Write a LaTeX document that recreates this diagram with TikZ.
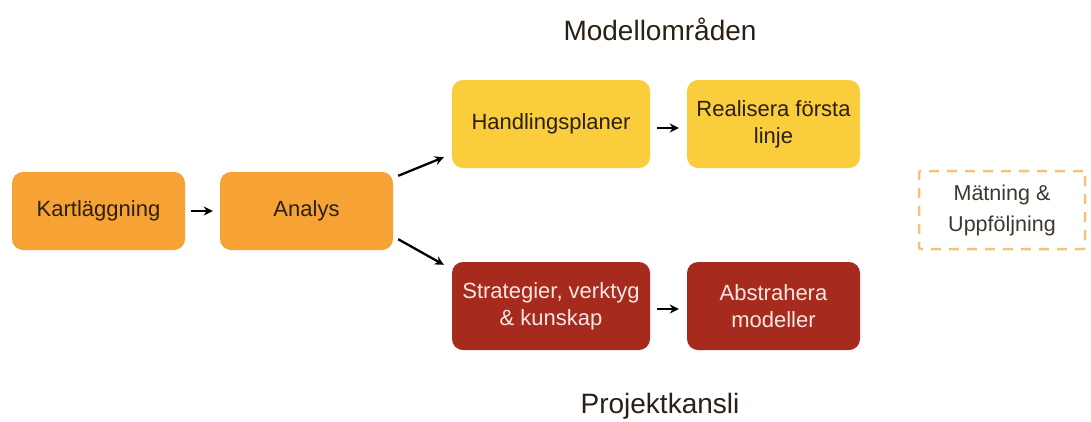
\documentclass[tikz,border=0pt]{standalone}
\usepackage{fontspec}
\setmainfont{Liberation Sans}
\usetikzlibrary{calc,arrows.meta}
\definecolor{boxorange}{HTML}{F7A234}
\definecolor{boxyellow}{HTML}{F9CD3C}
\definecolor{boxred}{HTML}{A62A1E}
\definecolor{darktext}{HTML}{2A2015}
\definecolor{lighttext}{HTML}{F7E8E2}
\definecolor{dashorange}{HTML}{F3C27C}
\tikzset{
  x=1pt, y=-1pt,
  stepbox/.style={rounded corners=11pt, align=center, inner sep=2pt,
    font=\fontsize{22}{27}\selectfont, text=darktext},
  orangebox/.style={stepbox, fill=boxorange, minimum width=173pt, minimum height=78pt},
  yellowbox/.style={stepbox, fill=boxyellow, minimum height=88pt},
  redbox/.style={stepbox, fill=boxred, text=lighttext, minimum height=88pt},
  flow/.style={-{Stealth[length=9pt,width=9pt]}, line width=2.3pt, black},
  heading/.style={font=\fontsize{28}{32}\selectfont, text=darktext}
}
\begin{document}
\begin{tikzpicture}
\useasboundingbox (0,0) rectangle (1091,421);

\node[orangebox] (kart) at (98.5,211) {Kartläggning};
\node[orangebox] (analys) at (306.5,211) {Analys};

\node[yellowbox, minimum width=198pt] (hand) at (551,124) {Handlingsplaner};
\node[yellowbox, minimum width=173pt] (real) at (773.5,124) {Realisera första\\linje};
\node[redbox, minimum width=198pt] (strat) at (551,306) {Strategier, verktyg\\\& kunskap};
\node[redbox, minimum width=173pt] (abst) at (773.5,306) {Abstrahera\\modeller};

\node[stepbox, draw=dashorange, line width=2.5pt, dash pattern=on 10pt off 8pt,
  rounded corners=2pt, minimum width=166pt, minimum height=78pt,
  text=darktext!90, font=\fontsize{21.5}{31}\selectfont]
  (mat) at (1002,210) {Mätning \&\\Uppföljning};

\node[heading] (modell) at (660,29) {Modellområden};
\node[heading] (kansli) at (660,406) {Projektkansli};

\draw[flow] ([xshift=6pt]kart.east) -- ([xshift=-7pt]analys.west);
\draw[flow] ($(analys.north east)+(5,4)$) -- ($(hand.south west)+(-8,-11)$);
\draw[flow] ($(analys.south east)+(5,-11)$) -- ($(strat.north west)+(-8,3)$);
\draw[flow] ([xshift=7pt,yshift=-4pt]hand.east) -- ([xshift=-8pt,yshift=-4pt]real.west);
\draw[flow] ([xshift=7pt,yshift=-3pt]strat.east) -- ([xshift=-8pt,yshift=-3pt]abst.west);
\end{tikzpicture}
\end{document}
